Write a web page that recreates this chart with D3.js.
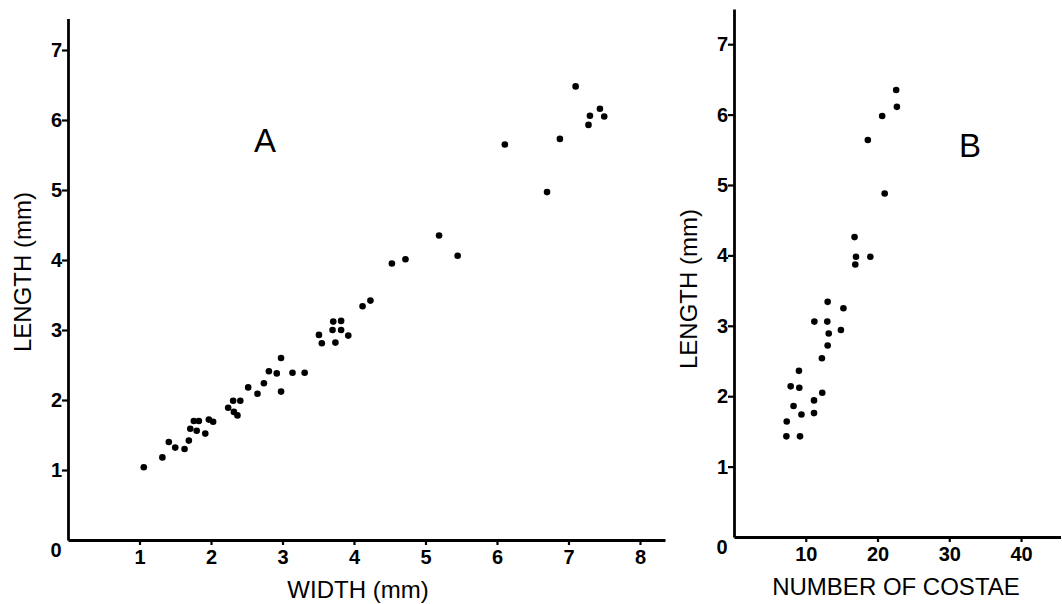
<!DOCTYPE html>
<html>
<head>
<meta charset="utf-8">
<script src="https://cdn.jsdelivr.net/npm/d3@7"></script>
<style>
  body { margin: 0; background: #fff; }
  svg { display: block; font-family: "Liberation Sans", Arial, Helvetica, sans-serif; }
  .title { font-size: 24px; fill: #000; }
  .panel { font-size: 33px; fill: #000; }
</style>
</head>
<body>
<svg width="1062" height="604"></svg>
<script>
// panel A: width vs length (mm)
var widthA = [1.06, 1.32, 1.41, 1.50, 1.63, 1.69, 1.71, 1.76, 1.83, 1.80, 1.92, 1.97, 2.03,
  2.24, 2.31, 2.41, 2.32, 2.37, 2.52, 2.65, 2.74, 2.81, 2.92, 2.98, 2.98, 3.14, 3.31,
  3.51, 3.55, 3.71, 3.82, 3.70, 3.82, 3.74, 3.92, 4.12, 4.23, 4.53, 4.72, 5.19, 5.45,
  6.11, 6.70, 6.88, 7.10, 7.30, 7.28, 7.44, 7.50];
var lengthA = [1.04, 1.18, 1.40, 1.32, 1.30, 1.42, 1.59, 1.70, 1.70, 1.56, 1.52, 1.72, 1.69,
  1.89, 1.99, 1.99, 1.83, 1.78, 2.18, 2.09, 2.24, 2.41, 2.38, 2.60, 2.12, 2.39, 2.39,
  2.93, 2.81, 3.12, 3.13, 3.00, 3.00, 2.82, 2.92, 3.34, 3.42, 3.95, 4.01, 4.35, 4.06,
  5.65, 4.97, 5.73, 6.48, 6.06, 5.93, 6.16, 6.05];

// panel B: number of costae vs length (mm)
var costaeB = [22.6, 22.7, 20.65, 18.65, 21.0, 16.8, 17.0, 16.9, 19.0, 13.05, 15.25, 11.2,
  13.0, 13.2, 13.05, 14.9, 12.25, 9.05, 7.9, 9.1, 12.3, 8.3, 11.15, 9.4, 11.15, 7.35, 7.3, 9.2];
var lengthB = [6.35, 6.11, 5.98, 5.64, 4.88, 4.26, 3.98, 3.87, 3.98, 3.34, 3.25, 3.06,
  3.06, 2.89, 2.72, 2.94, 2.54, 2.36, 2.14, 2.12, 2.05, 1.86, 1.94, 1.74, 1.76, 1.64, 1.43, 1.43];

var ticksA = [1, 2, 3, 4, 5, 6, 7, 8];
var ticksB = [10, 20, 30, 40];
var ticksLen = [1, 2, 3, 4, 5, 6, 7];

var svg = d3.select("svg");

function styleAxis(sel) {
  sel.select(".domain").attr("stroke", "#000").attr("stroke-width", 2.8);
  sel.selectAll(".tick line").attr("stroke", "#000").attr("stroke-width", 2.2);
  sel.selectAll(".tick text")
    .attr("fill", "#000")
    .attr("font-size", 20)
    .attr("font-weight", "bold")
    .attr("font-family", "'Liberation Sans', Arial, sans-serif");
}

function panel(opts) {
  var x = d3.scaleLinear().domain(opts.xDomain).range(opts.xRange);
  var y = d3.scaleLinear().domain(opts.yDomain).range(opts.yRange);
  var g = svg.append("g");

  var xAxis = g.append("g")
    .attr("transform", "translate(0," + y(0) + ")")
    .call(d3.axisBottom(x).tickValues(opts.xTicks).tickSize(5).tickSizeOuter(0).tickPadding(3));
  styleAxis(xAxis);
  xAxis.selectAll(".tick text").attr("dy", "0.8em");

  var yAxis = g.append("g")
    .attr("transform", "translate(" + x(0) + ",0)")
    .call(d3.axisLeft(y).tickValues(ticksLen).tickSize(6).tickSizeOuter(0).tickPadding(0));
  styleAxis(yAxis);

  // shared origin label
  g.append("text")
    .attr("x", x(0) - 12)
    .attr("y", y(0) + 17)
    .attr("text-anchor", "middle")
    .attr("font-size", 20).attr("font-weight", "bold")
    .text("0");

  g.selectAll(".dot")
    .data(opts.xs.map(function(d, i) { return [d, opts.ys[i]]; }))
    .enter().append("circle")
    .attr("class", "dot")
    .attr("cx", function(d) { return x(d[0]); })
    .attr("cy", function(d) { return y(d[1]); })
    .attr("r", 3.3)
    .attr("fill", "#000");

  g.append("text")
    .attr("class", "title")
    .attr("x", opts.xTitle[0]).attr("y", opts.xTitle[1])
    .attr("text-anchor", "middle")
    .text(opts.xLabel);

  g.append("text")
    .attr("class", "title")
    .attr("transform", "translate(" + opts.yTitle[0] + "," + opts.yTitle[1] + ") rotate(-90)")
    .attr("text-anchor", "middle")
    .attr("dy", "0.35em")
    .text("LENGTH (mm)");

  g.append("text")
    .attr("class", "panel")
    .attr("x", opts.letter[0]).attr("y", opts.letter[1])
    .attr("text-anchor", "middle")
    .text(opts.name);
}

panel({
  xs: widthA, ys: lengthA,
  xDomain: [0, 8.35], xRange: [68, 665],
  yDomain: [0, 7.45], yRange: [540, 18.5],
  xTicks: ticksA,
  xLabel: "WIDTH (mm)", xTitle: [358, 598],
  yTitle: [23, 272],
  name: "A", letter: [265, 152]
});

panel({
  xs: costaeB, ys: lengthB,
  xDomain: [0, 45.5], xRange: [734, 1060.5],
  yDomain: [0, 7.5], yRange: [537, 9],
  xTicks: ticksB,
  xLabel: "NUMBER OF COSTAE", xTitle: [896, 595],
  yTitle: [689, 289],
  name: "B", letter: [970, 157]
});
</script>
</body>
</html>
